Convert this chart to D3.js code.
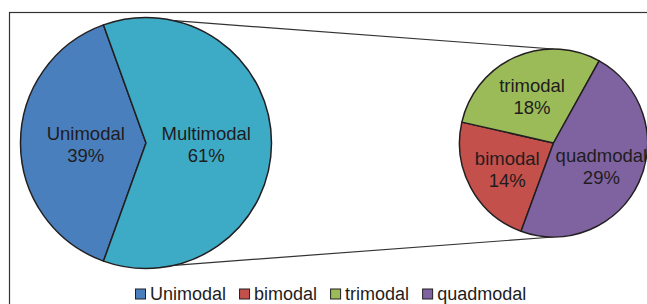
<!DOCTYPE html>
<html>
<head>
<meta charset="utf-8">
<script src="https://cdn.jsdelivr.net/npm/d3@7"></script>
<style>
  html, body { margin: 0; padding: 0; background: #fff; }
  svg { display: block; }
  text { font-family: "Liberation Sans", Arial, sans-serif; fill: #1f1c1d; }
</style>
</head>
<body>
<svg id="chart" width="647" height="304"></svg>
<script>
// main pie
const mainLabels = ["Unimodal", "Multimodal"];
const mainValues = [39, 61];
const mainColors = ["#4a7fbe", "#3eabc6"];

// secondary pie (split of Multimodal)
const subLabels = ["bimodal", "trimodal", "quadmodal"];
const subValues = [14, 18, 29];
const subColors = ["#c4504c", "#9bbb59", "#7f63a1"];

// legend order
const legendLabels = ["Unimodal", "bimodal", "trimodal", "quadmodal"];
const legendColors = ["#4a7fbe", "#c4504c", "#9bbb59", "#7f63a1"];

const svg = d3.select("#chart");
const deg = Math.PI / 180;

// frame
svg.append("rect")
  .attr("x", 9.5).attr("y", 12.5)
  .attr("width", 700).attr("height", 400)
  .attr("fill", "none")
  .attr("stroke", "#333")
  .attr("stroke-width", 1.2);

const main = { cx: 146, cy: 143, r: 125.5 };
const sub = { cx: 553.5, cy: 143, r: 94 };

// connector lines
const connAngle = 13 * deg;
const connectors = [
  [[main.cx + main.r * Math.sin(connAngle), main.cy - main.r * Math.cos(connAngle)], [sub.cx, sub.cy - sub.r]],
  [[main.cx + main.r * Math.sin(connAngle), main.cy + main.r * Math.cos(connAngle)], [sub.cx, sub.cy + sub.r]]
];
svg.selectAll("line.conn")
  .data(connectors)
  .enter()
  .append("line")
  .attr("class", "conn")
  .attr("x1", d => d[0][0]).attr("y1", d => d[0][1])
  .attr("x2", d => d[1][0]).attr("y2", d => d[1][1])
  .attr("stroke", "#333")
  .attr("stroke-width", 1.2);

function drawPie(cfg, labels, values, colors, start, labelFrac) {
  const pieGen = d3.pie().sort(null)
    .startAngle(start)
    .endAngle(start + 2 * Math.PI);
  const arcData = pieGen(values);
  const arcGen = d3.arc().innerRadius(0).outerRadius(cfg.r);
  const labelArc = d3.arc().innerRadius(cfg.r * labelFrac).outerRadius(cfg.r * labelFrac);

  const g = svg.append("g")
    .attr("transform", `translate(${cfg.cx}, ${cfg.cy})`);

  g.selectAll("path")
    .data(arcData)
    .enter()
    .append("path")
    .attr("d", arcGen)
    .attr("fill", (d, i) => colors[i])
    .attr("stroke", "#231f20")
    .attr("stroke-width", 1.5)
    .attr("stroke-linejoin", "round");

  const lbl = g.selectAll("text")
    .data(arcData)
    .enter()
    .append("text")
    .attr("text-anchor", "middle")
    .attr("font-size", 18.5)
    .attr("transform", d => `translate(${labelArc.centroid(d)})`);
  lbl.append("tspan")
    .attr("x", 0).attr("y", -3)
    .text((d, i) => labels[i]);
  lbl.append("tspan")
    .attr("x", 0).attr("y", 19)
    .text(d => d.value + "%");
}

drawPie(main, mainLabels, mainValues, mainColors, 199.8 * deg, 0.48);
drawPie(sub, subLabels, subValues, subColors, 200.2 * deg, 0.56);

// legend
const legend = svg.append("g").attr("transform", "translate(135, 299.5)");
let lx = 0;
legendLabels.forEach((name, i) => {
  legend.append("rect")
    .attr("x", lx + 0.5).attr("y", -10.5)
    .attr("width", 10).attr("height", 10)
    .attr("fill", legendColors[i])
    .attr("stroke", "#231f20")
    .attr("stroke-width", 1);
  const t = legend.append("text")
    .attr("x", lx + 15).attr("y", 0)
    .attr("font-size", 18)
    .text(name);
  lx += 15 + t.node().getComputedTextLength() + 13;
});
</script>
</body>
</html>
